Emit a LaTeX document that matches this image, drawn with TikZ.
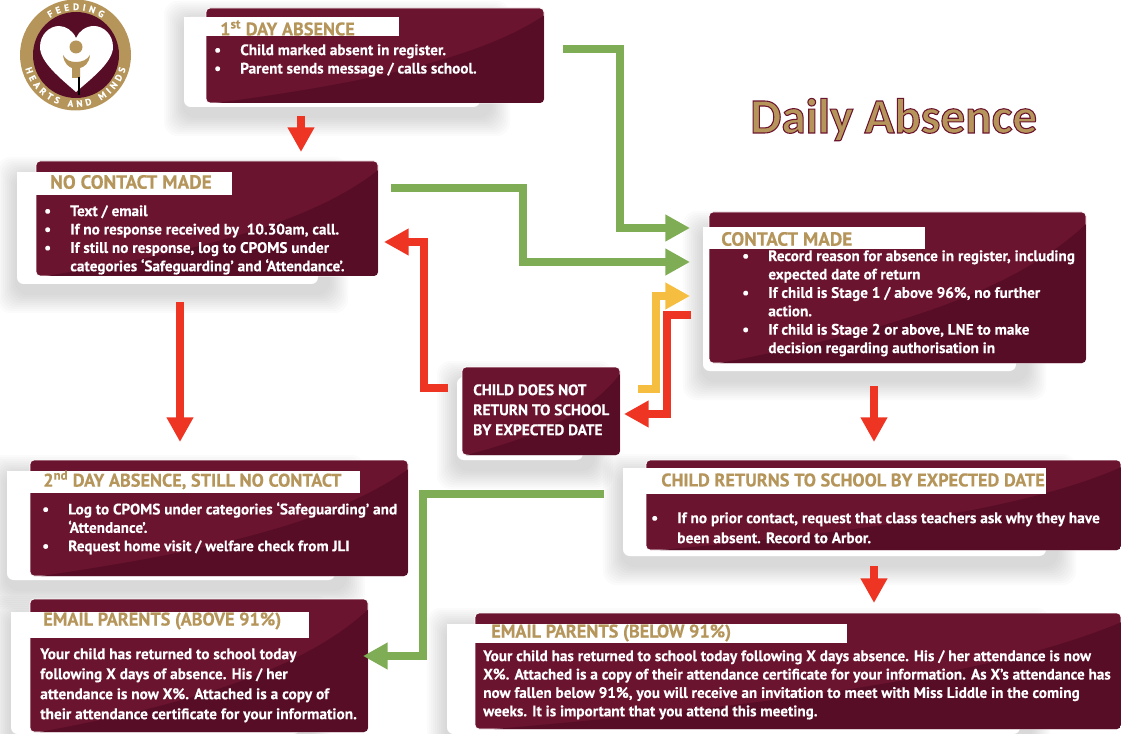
\documentclass[tikz,border=0pt]{standalone}
\usepackage{fontspec}
\setmainfont{PT Sans}[BoldFeatures={FakeBold=.25}]
\newfontfamily\titlefont{Carlito}
\usetikzlibrary{arrows.meta,fit,decorations.text}
\definecolor{wine}{HTML}{6B142F}
\definecolor{winedark}{HTML}{570D26}
\definecolor{gold}{HTML}{B5955A}
\definecolor{greenline}{HTML}{7FAD55}
\definecolor{redline}{HTML}{EE3524}
\definecolor{yellowline}{HTML}{F6BE41}
\tikzset{
	winebox/.style={fill=wine,draw=white,line width=.6pt,rounded corners=3,inner sep=0pt,outer sep=0pt},
	tabfill/.style={fill=white},
	headtxt/.style={anchor=west,inner sep=0pt,text=gold,font=\bfseries\fontsize{13.7}{15}\selectfont},
	bodytxt/.style={anchor=north west,inner sep=0pt,align=left,text=white,font=\bfseries\fontsize{11.4}{13.8}\selectfont},
	roomtxt/.style={bodytxt,font=\bfseries\fontsize{11.5}{15}\selectfont},
	arrowline/.style={line width=5.8pt,-{Triangle[length=18.5pt,width=19pt]}},
	greenarr/.style={arrowline,draw=greenline},
	redarr/.style={arrowline,draw=redline},
	yellowarr/.style={arrowline,draw=yellowline}
}
\newcommand{\bl}{\makebox[19.55pt][l]{\textbullet}}
\newcommand{\nb}{\hspace*{19.55pt}}
\begin{document}
\begin{tikzpicture}[x=.75pt,y=-.75pt]
	\useasboundingbox (0,0) rectangle (1121,734);
	% boxes: name, body corners, white backing corners
	\foreach \nm/\xa/\ya/\xb/\yb/\pa/\qa/\pb/\qb in {
		day1/206/8/544/103/184/17/480/107,
		nocontact/36/161/378/276/17/173/318/284,
		contact/709/212/1086/363/703/227/1016/371,
		childnot/462/367/620/455/457/377/583/460,
		second/30/460/408/576/7/471/335/580,
		emailabove/30/599/368/732/11/612/300/734,
		returns/646/460/1121/550/623/470/1046/556,
		emailbelow/475/613/1121/729/447/624/1020/734}{
		\foreach \s in {1,...,10}{
			\pgfmathsetmacro\e{22-2*\s}
			\fill[black,opacity=.014,rounded corners=10] ({\pa-\e},{\qa+4-\e}) rectangle ({\pb+10+\e},{\qb+9+\e});
		}
		\fill[white,rounded corners=5] (\pa,\qa) rectangle (\pb,\qb);
		\node[winebox,fit={(\xa,\ya) (\xb,\yb)}] (\nm) {};
		\pgfmathsetmacro\w{\xb-\xa}
		\pgfmathsetmacro\h{\yb-\ya}
		\begin{scope}
			\clip[rounded corners=3] (\xa,\ya) rectangle (\xb,\yb);
			\fill[winedark] ({\xa+.03*\w},\yb) .. controls ({\xa+.45*\w},{\yb-.2*\h}) and ({\xa+.8*\w},{\yb-.45*\h}) .. (\xb,{\ya+.08*\h}) -- (\xb,\yb) -- cycle;
		\end{scope}
	}
	% logo
	\fill[gold] (75.5,55) circle (55.5);
	\fill[winedark] (76,55) circle (43);
	\fill[white] (76,92) .. controls (60,78) and (40,62) .. (40,47) .. controls (40,34) and (50,26) .. (59,26) .. controls (66,26) and (73,31) .. (76,38) .. controls (79,31) and (86,26) .. (94,26) .. controls (103,26) and (113,34) .. (113,47) .. controls (113,62) and (92,78) .. (76,92) -- cycle;
	\fill[gold] (76,47) circle (6.5);
	\fill[gold] (63,55) .. controls (64,64) and (69,67) .. (72,68) -- (72,78) -- (80,78) -- (80,68) .. controls (84,67) and (89,64) .. (90,55) .. controls (87,60) and (82,62) .. (76,62) .. controls (70,62) and (66,60) .. (63,55) -- cycle;
	\draw[black,line width=.9pt] (79,77) -- (79,95);
	\path[decorate,decoration={text along path,text align=fit to path,text={|\bfseries\fontsize{7}{8}\selectfont\color{white}|FEEDING}}] (50,18) .. controls (65.7,7.4) and (86.3,7.4) .. (102,18);
	\path[decorate,decoration={text along path,text align=fit to path,text={|\bfseries\fontsize{7}{8}\selectfont\color{white}|HEARTS AND MINDS}}] (25.3,68.5) .. controls (31.4,91.2) and (52,107) .. (75.5,107) .. controls (99,107) and (119.6,91.2) .. (125.7,68.5);
	% title
	\node[anchor=base west,inner sep=0pt,font=\titlefont\bfseries\fontsize{37}{44}\selectfont] (title) at (750,133) {\color{gold}\special{pdf:code 2 Tr 0.8 w 0.42 0.08 0.18 RG}Daily Absence\special{pdf:code 0 Tr}};
	% tabs
	\fill[tabfill] (184,17) rectangle (399,36);
	\fill[tabfill] (17,172) rectangle (232,195);
	\fill[tabfill] (703,227) rectangle (925,249);
	\fill[tabfill] (7,471) rectangle (360,493);
	\fill[tabfill] (11,612) rectangle (309,638);
	\fill[tabfill] (623,468) rectangle (1046,494);
	\fill[tabfill] (447,624) rectangle (847,643);
	% headings
	\node[headtxt] (day1head) at (220,28) {1\textsuperscript{st} DAY ABSENCE};
	\node[headtxt,font=\bfseries\fontsize{14.4}{15}\selectfont] (nocontacthead) at (50,182) {NO CONTACT MADE};
	\node[headtxt,font=\bfseries\fontsize{14.4}{15}\selectfont] (contacthead) at (721,239) {CONTACT MADE};
	\node[headtxt] (secondhead) at (43,480) {2\textsuperscript{nd} DAY ABSENCE, STILL NO CONTACT};
	\node[headtxt] (abovehead) at (43,621) {EMAIL PARENTS (ABOVE 91\%)};
	\node[headtxt] (returnshead) at (661,480) {CHILD RETURNS TO SCHOOL BY EXPECTED DATE};
	\node[headtxt] (belowhead) at (491,633) {EMAIL PARENTS (BELOW 91\%)};
	% box texts
	\node[bodytxt] (day1txt) at (214,44) {\bl Child marked absent in register.\\\bl Parent sends message / calls school.};
	\node[bodytxt] (nocontacttxt) at (44,205) {\bl Text / email\\\bl If no response received by\ \ 10.30am, call.\\\bl If still no response, log to CPOMS under\\\nb categories ‘Safeguarding’ and ‘Attendance’.};
	\node[bodytxt] (contacttxt) at (742,250) {\bl Record reason for absence in register, including\\\nb expected date of return\\\bl If child is Stage 1 / above 96\%, no further\\\nb action.\\\bl If child is Stage 2 or above, LNE to make\\\nb decision regarding authorisation in};
	\node[roomtxt] (childnottxt) at (473,384) {CHILD DOES NOT\\RETURN TO SCHOOL\\BY EXPECTED DATE};
	\node[bodytxt] (secondtxt) at (42,502) {\bl Log to CPOMS under categories ‘Safeguarding’ and\\\nb ‘Attendance’.\\\bl Request home visit / welfare check from JLI};
	\node[roomtxt] (abovetxt) at (40,648) {Your child has returned to school today\\following X days of absence. His / her\\attendance is now X\%. Attached is a copy of\\their attendance certificate for your information.};
	\node[roomtxt] (returnstxt) at (651,512) {\bl If no prior contact, request that class teachers ask why they have\\\nb been absent. Record to Arbor.};
	\node[bodytxt] (belowtxt) at (483,650) {Your child has returned to school today following X days absence. His / her attendance is now\\X\%. Attached is a copy of their attendance certificate for your information. As X’s attendance has\\now fallen below 91\%, you will receive an invitation to meet with Miss Liddle in the coming\\weeks. It is important that you attend this meeting.};
	% arrows
	\draw[redarr] ([shift={(-74,13)}]day1.south) -- ([shift={(94,-9)}]nocontact.north);
	\draw[greenarr] ([shift={(19,-6.5)}]day1.east) -- ++(57,0) |- ([shift={(-19,-59.5)}]contact.west);
	\draw[greenarr] ([shift={(13,-30.5)}]nocontact.east) -- ++(132,0) |- ([shift={(-19,-25.5)}]contact.west);
	\draw[yellowarr] ([shift={(18,-22)}]childnot.east) -- ++(18,0) |- ([shift={(-19,8.5)}]contact.west);
	\draw[redarr] ([shift={(-18,27.5)}]contact.west) -- ++(-24,0) |- ([shift={(4,3)}]childnot.east);
	\draw[redarr] ([shift={(-14,-23)}]childnot.west) -- ++(-24,0) |- ([shift={(6,23.5)}]nocontact.east);
	\draw[redarr] ([shift={(-27,26)}]nocontact.south) -- ([shift={(-39,-18)}]second.north);
	\draw[redarr] ([shift={(-23.5,23)}]contact.south) -- ([shift={(-9.5,-18)}]returns.north);
	\draw[redarr] ([shift={(-9.5,16)}]returns.south) -- ([shift={(76,-10)}]emailbelow.north);
	\draw[greenarr] ([shift={(-42,-11)}]returns.west) -- ++(-181,0) |- ([shift={(-5,-9.5)}]emailabove.east);
\end{tikzpicture}
\end{document}
